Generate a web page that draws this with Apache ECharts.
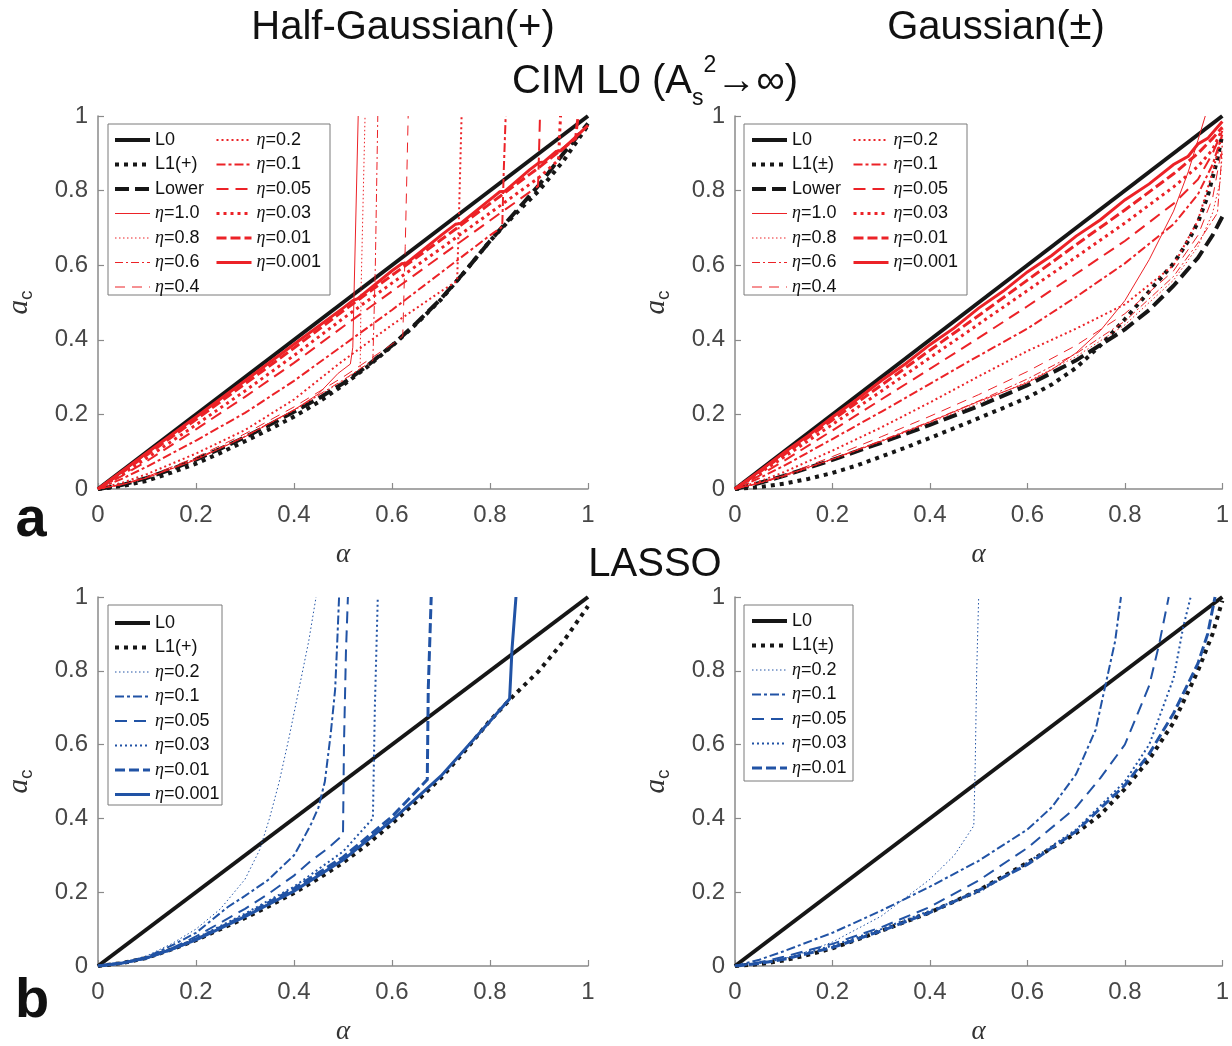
<!DOCTYPE html>
<html><head><meta charset="utf-8">
<script src="https://cdn.jsdelivr.net/npm/echarts/dist/echarts.min.js"></script>
<style>html,body{margin:0;padding:0;background:#fff}#c{width:1232px;height:1046px}</style>
</head><body><div id="c"></div>
<script>
// ---------- tick labels ----------
const tickValues = [0, 0.2, 0.4, 0.6, 0.8, 1];
const tickLabels = ['0', '0.2', '0.4', '0.6', '0.8', '1'];

// ---------- panel a, left: Half-Gaussian(+), CIM L0 ----------
const tl_L0 = [[0,0],[1,1]];
const tl_L1 = [[0,0],[0.05,0.008],[0.1,0.022],[0.15,0.044],[0.2,0.068],[0.25,0.097],[0.3,0.128],[0.35,0.16],[0.4,0.194],[0.45,0.233],[0.5,0.278],[0.55,0.328],[0.6,0.383],[0.65,0.443],[0.7,0.508],[0.75,0.585],[0.8,0.665],[0.85,0.735],[0.9,0.8],[0.95,0.88],[1,0.975]];
const tl_Lower = [[0,0],[0.05,0.011],[0.1,0.03],[0.15,0.053],[0.2,0.079],[0.25,0.108],[0.3,0.139],[0.35,0.172],[0.4,0.207],[0.45,0.243],[0.5,0.283],[0.55,0.331],[0.6,0.385],[0.65,0.445],[0.7,0.51],[0.75,0.585],[0.8,0.665],[0.85,0.74],[0.9,0.815],[0.95,0.9],[1,0.98]];
const tl_e1_0 = [[0,0],[0.05,0.012],[0.1,0.03],[0.2,0.078],[0.3,0.14],[0.4,0.212],[0.45,0.255],[0.49,0.31],[0.515,0.335],[0.52,0.38],[0.531,1]];
const tl_e0_8 = [[0,0],[0.05,0.012],[0.1,0.03],[0.2,0.08],[0.3,0.14],[0.4,0.21],[0.5,0.29],[0.535,0.322],[0.537,0.54],[0.545,1]];
const tl_e0_6 = [[0,0],[0.05,0.012],[0.1,0.031],[0.2,0.081],[0.3,0.142],[0.4,0.212],[0.5,0.292],[0.561,0.345],[0.566,0.6],[0.571,1]];
const tl_e0_4 = [[0,0],[0.05,0.013],[0.1,0.033],[0.2,0.085],[0.3,0.148],[0.4,0.22],[0.5,0.3],[0.6,0.388],[0.622,0.41],[0.627,0.65],[0.633,1]];
const tl_e0_2 = [[0,0],[0.05,0.017],[0.1,0.04],[0.2,0.095],[0.3,0.158],[0.4,0.24],[0.494,0.338],[0.6,0.44],[0.7,0.53],[0.733,0.558],[0.737,0.75],[0.742,1]];
const tl_e0_1 = [[0,0],[0.05,0.028],[0.1,0.06],[0.2,0.13],[0.3,0.204],[0.4,0.29],[0.5,0.385],[0.6,0.48],[0.7,0.58],[0.8,0.68],[0.825,0.703],[0.828,0.85],[0.832,1]];
const tl_e0_05 = [[0,0],[0.05,0.036],[0.1,0.075],[0.2,0.16],[0.3,0.247],[0.4,0.338],[0.5,0.435],[0.6,0.53],[0.7,0.625],[0.8,0.72],[0.898,0.812],[0.9,0.9],[0.902,1]];
const tl_e0_03 = [[0,0],[0.05,0.04],[0.1,0.083],[0.2,0.172],[0.3,0.263],[0.4,0.358],[0.5,0.457],[0.6,0.552],[0.7,0.645],[0.8,0.74],[0.9,0.835],[0.94,0.882],[0.942,0.95],[0.944,1]];
const tl_e0_01 = [[0,0],[0.05,0.045],[0.1,0.092],[0.2,0.186],[0.3,0.282],[0.4,0.378],[0.5,0.477],[0.6,0.573],[0.7,0.668],[0.8,0.765],[0.9,0.862],[0.975,0.94],[0.977,0.97],[0.98,1]];
const tl_e0_001 = [[0,0],[0.1,0.097],[0.2,0.193],[0.3,0.29],[0.4,0.388],[0.5,0.485],[0.52,0.505],[0.53,0.51],[0.6,0.585],[0.62,0.604],[0.63,0.606],[0.7,0.68],[0.73,0.71],[0.74,0.712],[0.8,0.776],[0.82,0.797],[0.83,0.798],[0.88,0.855],[0.9,0.875],[0.91,0.877],[0.935,0.905],[0.945,0.907],[0.98,0.95],[1,0.975]];

// ---------- panel a, right: Gaussian(±), CIM L0 ----------
const tr_L0 = [[0,0],[1,1]];
const tr_L1 = [[0,0],[0.05,0.005],[0.1,0.014],[0.15,0.027],[0.2,0.043],[0.25,0.063],[0.3,0.087],[0.35,0.111],[0.4,0.137],[0.45,0.163],[0.5,0.19],[0.55,0.217],[0.6,0.245],[0.65,0.28],[0.7,0.325],[0.75,0.385],[0.8,0.455],[0.85,0.53],[0.9,0.605],[0.93,0.665],[0.95,0.715],[0.97,0.785],[0.98,0.835],[0.99,0.885],[1,0.95]];
const tr_Lower = [[0,0],[0.05,0.016],[0.1,0.035],[0.2,0.078],[0.3,0.124],[0.4,0.172],[0.5,0.222],[0.6,0.278],[0.7,0.345],[0.8,0.428],[0.85,0.48],[0.9,0.545],[0.95,0.62],[0.98,0.68],[1,0.73]];
const tr_e1_0 = [[0,0],[0.05,0.016],[0.1,0.036],[0.2,0.08],[0.3,0.128],[0.4,0.18],[0.5,0.235],[0.6,0.285],[0.65,0.32],[0.7,0.365],[0.75,0.425],[0.8,0.505],[0.85,0.615],[0.9,0.745],[0.93,0.85],[0.95,0.935],[0.965,1]];
const tr_e0_8 = [[0,0],[0.05,0.015],[0.1,0.033],[0.2,0.079],[0.3,0.127],[0.4,0.177],[0.5,0.23],[0.6,0.288],[0.7,0.355],[0.8,0.44],[0.9,0.56],[0.95,0.65],[0.98,0.74],[0.995,0.82],[1,0.9]];
const tr_e0_6 = [[0,0],[0.05,0.015],[0.1,0.034],[0.2,0.081],[0.3,0.13],[0.4,0.181],[0.5,0.236],[0.6,0.295],[0.7,0.363],[0.8,0.45],[0.9,0.57],[0.95,0.66],[0.99,0.74],[0.997,0.86],[1,0.93]];
const tr_e0_4 = [[0,0],[0.05,0.017],[0.1,0.037],[0.2,0.087],[0.3,0.14],[0.4,0.195],[0.5,0.253],[0.6,0.315],[0.7,0.385],[0.8,0.47],[0.9,0.585],[0.95,0.68],[0.98,0.78],[1,0.92]];
const tr_e0_2 = [[0,0],[0.05,0.02],[0.1,0.045],[0.2,0.103],[0.3,0.165],[0.4,0.232],[0.5,0.302],[0.6,0.37],[0.7,0.43],[0.8,0.495],[0.9,0.6],[0.95,0.72],[0.98,0.85],[1,0.95]];
const tr_e0_1 = [[0,0],[0.05,0.029],[0.1,0.062],[0.2,0.134],[0.3,0.207],[0.4,0.282],[0.5,0.357],[0.6,0.43],[0.7,0.515],[0.8,0.605],[0.9,0.71],[0.95,0.79],[0.98,0.87],[1,0.95]];
const tr_e0_05 = [[0,0],[0.05,0.036],[0.1,0.075],[0.2,0.157],[0.3,0.24],[0.4,0.322],[0.5,0.405],[0.6,0.49],[0.7,0.577],[0.8,0.665],[0.9,0.765],[0.95,0.83],[0.98,0.9],[1,0.96]];
const tr_e0_03 = [[0,0],[0.05,0.042],[0.1,0.085],[0.2,0.173],[0.3,0.262],[0.4,0.352],[0.5,0.442],[0.6,0.532],[0.7,0.622],[0.8,0.713],[0.9,0.81],[0.95,0.865],[0.98,0.91],[1,0.965]];
const tr_e0_01 = [[0,0],[0.05,0.045],[0.1,0.092],[0.2,0.185],[0.3,0.278],[0.4,0.372],[0.5,0.465],[0.6,0.56],[0.7,0.655],[0.8,0.748],[0.9,0.845],[0.95,0.9],[0.98,0.94],[1,0.97]];
const tr_e0_001 = [[0,0],[0.05,0.048],[0.1,0.097],[0.15,0.143],[0.2,0.193],[0.25,0.24],[0.3,0.29],[0.35,0.336],[0.4,0.387],[0.45,0.432],[0.5,0.485],[0.55,0.53],[0.6,0.582],[0.65,0.626],[0.7,0.678],[0.75,0.722],[0.8,0.775],[0.85,0.818],[0.9,0.87],[0.93,0.892],[0.95,0.925],[0.97,0.94],[1,0.985]];

// ---------- panel b, left: Half-Gaussian(+), LASSO ----------
const bl_L0 = [[0,0],[1,1]];
const bl_L1 = [[0,0],[0.05,0.008],[0.1,0.022],[0.15,0.045],[0.2,0.07],[0.25,0.1],[0.3,0.13],[0.35,0.163],[0.4,0.198],[0.45,0.237],[0.5,0.28],[0.55,0.33],[0.6,0.386],[0.65,0.446],[0.7,0.51],[0.75,0.585],[0.8,0.665],[0.85,0.735],[0.9,0.8],[0.95,0.88],[1,0.975]];
const bl_e0_2 = [[0,0],[0.05,0.009],[0.1,0.028],[0.15,0.06],[0.2,0.1],[0.25,0.155],[0.3,0.235],[0.33,0.315],[0.35,0.4],[0.37,0.5],[0.39,0.62],[0.41,0.75],[0.43,0.88],[0.445,1]];
const bl_e0_1 = [[0,0],[0.05,0.008],[0.1,0.025],[0.15,0.055],[0.2,0.09],[0.265,0.16],[0.3,0.19],[0.347,0.233],[0.4,0.3],[0.417,0.34],[0.435,0.385],[0.45,0.43],[0.463,0.5],[0.475,0.63],[0.484,0.75],[0.488,0.87],[0.492,1]];
const bl_e0_05 = [[0,0],[0.05,0.008],[0.1,0.023],[0.15,0.048],[0.2,0.08],[0.3,0.155],[0.347,0.195],[0.4,0.245],[0.43,0.28],[0.47,0.32],[0.5,0.355],[0.502,0.6],[0.506,0.85],[0.51,1]];
const bl_e0_03 = [[0,0],[0.05,0.008],[0.1,0.022],[0.15,0.046],[0.2,0.075],[0.3,0.142],[0.4,0.215],[0.5,0.31],[0.561,0.4],[0.565,0.7],[0.571,1]];
const bl_e0_01 = [[0,0],[0.05,0.008],[0.1,0.022],[0.15,0.045],[0.2,0.073],[0.3,0.137],[0.4,0.21],[0.5,0.295],[0.6,0.405],[0.672,0.505],[0.674,0.75],[0.68,1]];
const bl_e0_001 = [[0,0],[0.05,0.008],[0.1,0.022],[0.15,0.045],[0.2,0.071],[0.3,0.134],[0.4,0.203],[0.5,0.287],[0.6,0.395],[0.7,0.515],[0.8,0.663],[0.84,0.724],[0.845,0.86],[0.853,1]];

// ---------- panel b, right: Gaussian(±), LASSO ----------
const br_L0 = [[0,0],[1,1]];
const br_L1 = [[0,0],[0.05,0.005],[0.1,0.015],[0.15,0.03],[0.2,0.048],[0.3,0.095],[0.4,0.145],[0.5,0.205],[0.6,0.28],[0.7,0.36],[0.75,0.41],[0.8,0.48],[0.85,0.56],[0.9,0.66],[0.95,0.8],[0.98,0.9],[1,0.99]];
const br_e0_2 = [[0,0],[0.05,0.007],[0.1,0.02],[0.15,0.04],[0.2,0.065],[0.3,0.135],[0.4,0.235],[0.45,0.3],[0.49,0.38],[0.493,0.55],[0.496,0.8],[0.5,1]];
const br_e0_1 = [[0,0],[0.05,0.017],[0.1,0.04],[0.2,0.09],[0.3,0.15],[0.4,0.215],[0.5,0.285],[0.6,0.37],[0.65,0.43],[0.7,0.52],[0.74,0.64],[0.76,0.76],[0.78,0.88],[0.792,1]];
const br_e0_05 = [[0,0],[0.05,0.01],[0.1,0.025],[0.2,0.06],[0.3,0.105],[0.4,0.16],[0.5,0.232],[0.6,0.32],[0.7,0.43],[0.75,0.51],[0.8,0.6],[0.85,0.76],[0.87,0.87],[0.89,1]];
const br_e0_03 = [[0,0],[0.05,0.008],[0.1,0.02],[0.2,0.055],[0.3,0.1],[0.4,0.15],[0.5,0.2],[0.6,0.28],[0.7,0.37],[0.8,0.5],[0.85,0.6],[0.9,0.78],[0.92,0.92],[0.935,1]];
const br_e0_01 = [[0,0],[0.05,0.007],[0.1,0.018],[0.2,0.05],[0.3,0.095],[0.4,0.145],[0.5,0.205],[0.6,0.275],[0.7,0.365],[0.8,0.49],[0.85,0.575],[0.9,0.685],[0.95,0.82],[0.97,0.9],[0.985,1]];

// ---------- styles ----------
const BLACK = '#161616', RED = '#EC2227', BLUE = '#2153A5';
const ST = {
  L0:{w:4,t:'solid'}, L1:{w:4,t:[4,5]}, Lower:{w:4,t:[14,6]},
  r1_0:{w:1,t:'solid', thin:true}, r0_8:{w:1,t:[1.5,2.5]}, r0_6:{w:1,t:[8,3,2,3]}, r0_4:{w:1,t:[10,7]},
  r0_2:{w:2,t:[2,3]}, r0_1:{w:2,t:[9,3,3,3]}, r0_05:{w:2,t:[12,7]},
  r0_03:{w:3,t:[3,4]}, r0_01:{w:3,t:[10,4]}, r0_001:{w:3,t:'solid'},
  b0_2:{w:1,t:[1.5,2.5]}, b0_1:{w:2,t:[9,3,3,3]}, b0_05:{w:2,t:[12,7]},
  b0_03:{w:2,t:[2,3]}, b0_01:{w:3,t:[10,4]}, b0_001:{w:3,t:'solid'}
};

const series = [];
function add(label, tag, data, g, color, st){
  const name = label + '@' + tag;
  series.push({type:'line', name: name, data: data, xAxisIndex:g, yAxisIndex:g,
    symbol:'none', showSymbol:false, silent:true, clip:true, animation:false,
    emphasis:{disabled:true},
    lineStyle:{color:color, width:st.w, type:st.t, cap:'butt', join:'miter'}, itemStyle:{color:color}});
  if (st.thin) {
    // thin solid legend sample drawn as a 1px-high bar
    return {name: name, icon:'path://M0,0H35V1.2H0Z', itemStyle:{color:color, opacity:1, borderWidth:0}};
  }
  return {name: name, lineStyle:{color:color, width:st.w, type:st.t, cap:'butt', opacity:1}, itemStyle:{color:color, opacity:0}};
}
const legs = {tl:[[],[]], tr:[[],[]], bl:[[]], br:[[]]};
// TL
legs.tl[0].push(add('L0','tl',tl_L0,0,BLACK,ST.L0));
legs.tl[0].push(add('L1(+)','tl',tl_L1,0,BLACK,ST.L1));
legs.tl[0].push(add('Lower','tl',tl_Lower,0,BLACK,ST.Lower));
legs.tl[0].push(add('η=1.0','tl',tl_e1_0,0,RED,ST.r1_0));
legs.tl[0].push(add('η=0.8','tl',tl_e0_8,0,RED,ST.r0_8));
legs.tl[0].push(add('η=0.6','tl',tl_e0_6,0,RED,ST.r0_6));
legs.tl[0].push(add('η=0.4','tl',tl_e0_4,0,RED,ST.r0_4));
legs.tl[1].push(add('η=0.2','tl',tl_e0_2,0,RED,ST.r0_2));
legs.tl[1].push(add('η=0.1','tl',tl_e0_1,0,RED,ST.r0_1));
legs.tl[1].push(add('η=0.05','tl',tl_e0_05,0,RED,ST.r0_05));
legs.tl[1].push(add('η=0.03','tl',tl_e0_03,0,RED,ST.r0_03));
legs.tl[1].push(add('η=0.01','tl',tl_e0_01,0,RED,ST.r0_01));
legs.tl[1].push(add('η=0.001','tl',tl_e0_001,0,RED,ST.r0_001));
// TR
legs.tr[0].push(add('L0','tr',tr_L0,1,BLACK,ST.L0));
legs.tr[0].push(add('L1(±)','tr',tr_L1,1,BLACK,ST.L1));
legs.tr[0].push(add('Lower','tr',tr_Lower,1,BLACK,ST.Lower));
legs.tr[0].push(add('η=1.0','tr',tr_e1_0,1,RED,ST.r1_0));
legs.tr[0].push(add('η=0.8','tr',tr_e0_8,1,RED,ST.r0_8));
legs.tr[0].push(add('η=0.6','tr',tr_e0_6,1,RED,ST.r0_6));
legs.tr[0].push(add('η=0.4','tr',tr_e0_4,1,RED,ST.r0_4));
legs.tr[1].push(add('η=0.2','tr',tr_e0_2,1,RED,ST.r0_2));
legs.tr[1].push(add('η=0.1','tr',tr_e0_1,1,RED,ST.r0_1));
legs.tr[1].push(add('η=0.05','tr',tr_e0_05,1,RED,ST.r0_05));
legs.tr[1].push(add('η=0.03','tr',tr_e0_03,1,RED,ST.r0_03));
legs.tr[1].push(add('η=0.01','tr',tr_e0_01,1,RED,ST.r0_01));
legs.tr[1].push(add('η=0.001','tr',tr_e0_001,1,RED,ST.r0_001));
// BL
legs.bl[0].push(add('L0','bl',bl_L0,2,BLACK,ST.L0));
legs.bl[0].push(add('L1(+)','bl',bl_L1,2,BLACK,ST.L1));
legs.bl[0].push(add('η=0.2','bl',bl_e0_2,2,BLUE,ST.b0_2));
legs.bl[0].push(add('η=0.1','bl',bl_e0_1,2,BLUE,ST.b0_1));
legs.bl[0].push(add('η=0.05','bl',bl_e0_05,2,BLUE,ST.b0_05));
legs.bl[0].push(add('η=0.03','bl',bl_e0_03,2,BLUE,ST.b0_03));
legs.bl[0].push(add('η=0.01','bl',bl_e0_01,2,BLUE,ST.b0_01));
legs.bl[0].push(add('η=0.001','bl',bl_e0_001,2,BLUE,ST.b0_001));
// BR
legs.br[0].push(add('L0','br',br_L0,3,BLACK,ST.L0));
legs.br[0].push(add('L1(±)','br',br_L1,3,BLACK,ST.L1));
legs.br[0].push(add('η=0.2','br',br_e0_2,3,BLUE,ST.b0_2));
legs.br[0].push(add('η=0.1','br',br_e0_1,3,BLUE,ST.b0_1));
legs.br[0].push(add('η=0.05','br',br_e0_05,3,BLUE,ST.b0_05));
legs.br[0].push(add('η=0.03','br',br_e0_03,3,BLUE,ST.b0_03));
legs.br[0].push(add('η=0.01','br',br_e0_01,3,BLUE,ST.b0_01));

// ---------- layout ----------
const grids = [
  {left:98, top:116, width:490, height:373},
  {left:735, top:116, width:490, height:373},
  {left:98, top:597, width:490, height:373},
  {left:735, top:597, width:490, height:373}
];
const AX = '#8a8a8a', LBL = '#474747';
const tickFmt = v => { const i = tickValues.findIndex(t => Math.abs(t - v) < 1e-9); return i >= 0 ? tickLabels[i] : ''; };
const xAxes = grids.map((g,i) => ({type:'value', gridIndex:i, min:0, max:1, interval:0.2,
  name:'α', nameLocation:'middle', nameGap:52,
  nameTextStyle:{fontFamily:'Liberation Serif', fontStyle:'italic', fontSize:27, color:'#333'},
  axisLine:{show:true, onZero:false, lineStyle:{color:AX, width:1.5}},
  axisTick:{show:true, inside:true, length:6, lineStyle:{color:AX, width:1.2}},
  axisLabel:{margin:14, fontSize:24, color:LBL, fontFamily:'Liberation Sans', formatter:tickFmt},
  splitLine:{show:false}}));
const yAxes = grids.map((g,i) => ({type:'value', gridIndex:i, min:0, max:1, interval:0.2,
  name:'{a|a}{c|c}', nameLocation:'middle', nameGap:62, nameRotate:90,
  nameTextStyle:{rich:{a:{fontFamily:'Liberation Serif', fontStyle:'italic', fontSize:29, lineHeight:34, color:'#333', verticalAlign:'middle'},
                       c:{fontFamily:'Liberation Sans', fontSize:19, lineHeight:14, color:'#333', verticalAlign:'bottom'}}},
  axisLine:{show:true, onZero:false, lineStyle:{color:AX, width:1.5}},
  axisTick:{show:true, inside:true, length:6, lineStyle:{color:AX, width:1.2}},
  axisLabel:{margin:10, fontSize:24, color:LBL, fontFamily:'Liberation Sans', formatter:tickFmt},
  splitLine:{show:false}}));

const legFmt = n => { const s = n.split('@')[0]; return s.charAt(0) === 'η' ? '{e|η}{t|' + s.slice(1) + '}' : '{t|' + s + '}'; };
function legend(data, left, top){
  return {data:data, left:left, top:top, orient:'vertical', itemWidth:35, itemHeight:14, itemGap:6.5, padding:0,
    selectedMode:false, z:10, formatter:legFmt,
    itemStyle:{opacity:0, borderWidth:0},
    textStyle:{fontFamily:'Liberation Sans', fontSize:18, lineHeight:18, height:18, color:'#111',
      rich:{t:{fontFamily:'Liberation Sans', fontSize:18, lineHeight:18, height:18, color:'#111'},
            e:{fontFamily:'Liberation Serif', fontStyle:'italic', fontSize:18, lineHeight:18, height:18, color:'#111'}}}};
}
const legends = [
  legend(legs.tl[0], 113, 131), legend(legs.tl[1], 215, 131),
  legend(legs.tr[0], 750, 131), legend(legs.tr[1], 852, 131),
  legend(legs.bl[0], 113, 614), legend(legs.br[0], 750, 612)
];

function box(x,y,w,h){ return {type:'rect', z:5, silent:true, shape:{x:x,y:y,width:w,height:h}, style:{fill:'#fff', stroke:'#7a7a7a', lineWidth:1}}; }
function txt(x,y,text,font,extra){ return Object.assign({type:'text', z:20, silent:true, x:x, y:y,
  style:Object.assign({text:text, font:font, fill:'#111', align:'center', verticalAlign:'middle', textAlign:'center', textVerticalAlign:'middle'}, extra||{})}); }

const graphics = [
  box(108,124,222,171), box(744,124,223,171), box(108,605,114,200), box(744,605,109,176),
  txt(403,28,'Half-Gaussian(+)','40px "Liberation Sans"'),
  txt(996,28,'Gaussian(±)','40px "Liberation Sans"'),
  txt(655,82,'{n|CIM L0 (A}{s|s}{p|2}{n|→∞)}','40px "Liberation Sans"', {rich:{
     n:{fontSize:40, fontFamily:'Liberation Sans', lineHeight:56, verticalAlign:'middle', fill:'#111'},
     s:{fontSize:23, fontFamily:'Liberation Sans', lineHeight:24, verticalAlign:'bottom', fill:'#111'},
     p:{fontSize:23, fontFamily:'Liberation Sans', lineHeight:32, verticalAlign:'top', fill:'#111'}}}),
  txt(655,565,'LASSO','40px "Liberation Sans"'),
  txt(31,521,'a','bold 56px "Liberation Sans"'),
  txt(32,1002,'b','bold 56px "Liberation Sans"')
];

const chart = echarts.init(document.getElementById('c'), null, {renderer:'canvas'});
chart.setOption({
  animation:false,
  backgroundColor:'#fff',
  grid: grids,
  xAxis: xAxes,
  yAxis: yAxes,
  legend: legends,
  series: series,
  graphic: {elements: graphics}
});
</script></body></html>
